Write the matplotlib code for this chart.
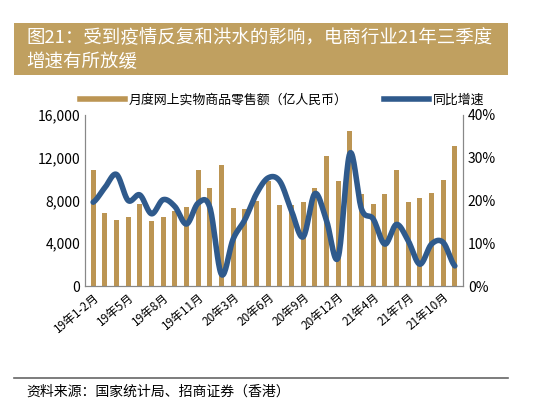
import matplotlib
matplotlib.use("Agg")
import matplotlib.pyplot as plt
import numpy as np
from matplotlib.patches import Rectangle
from matplotlib.lines import Line2D

plt.rcParams['font.family'] = ['Noto Sans CJK SC', 'DejaVu Sans']

months = ['19年1-2月','19年3月','19年4月','19年5月','19年6月','19年7月','19年8月','19年9月','19年10月','19年11月','19年12月',
          '20年1-2月','20年3月','20年4月','20年5月','20年6月','20年7月','20年8月','20年9月','20年10月','20年11月','20年12月',
          '21年1-2月','21年3月','21年4月','21年5月','21年6月','21年7月','21年8月','21年9月','21年10月','21年11月']
sales = [10900, 6850, 6200, 6500, 7700, 6050, 6500, 7050, 7400, 10900, 9200,
         11300, 7300, 7200, 8000, 9800, 7550, 7600, 7850, 9150, 12200, 9850,
         14500, 8650, 7700, 8600, 10900, 7900, 8200, 8700, 9900, 13100]
growth = [19.6, 23.0, 26.1, 20.0, 21.3, 16.9, 20.2, 18.6, 14.5, 19.4, 18.4,
          2.7, 11.0, 15.5, 21.6, 25.3, 24.5, 17.6, 11.5, 21.6, 15.3, 6.7,
          31.0, 18.0, 15.7, 9.8, 14.4, 10.6, 5.1, 9.8, 10.2, 4.7]
tick_idx = [0, 3, 6, 9, 12, 15, 18, 21, 24, 27, 30]

bar_c = '#BC9553'
line_c = '#2F5A8C'

fig = plt.figure(figsize=(5.54, 4.17), dpi=100)
fig.patches.append(Rectangle((14/554, 1-75/417), 494/554, 52/417, transform=fig.transFigure,
                             facecolor='#C0A060', edgecolor='none', zorder=0))
fig.text(26/554, 1-38/417, '图21：受到疫情反复和洪水的影响，电商行业21年三季度', color='white',
         fontsize=13.3, va='center', ha='left')
fig.text(26/554, 1-62/417, '增速有所放缓', color='white', fontsize=13.3, va='center', ha='left')

ax = fig.add_axes([85/554, 1-286/417, 378/554, 171/417])
x = np.arange(len(sales))
ax.bar(x, sales, width=0.45, color=bar_c)
ax.set_ylim(0, 16000)
ax.set_yticks(np.arange(0, 16001, 4000))
ax.set_yticklabels([f'{v:,}' for v in range(0, 16001, 4000)], fontsize=10)
ax.set_xlim(-0.7, len(sales) - 0.3)
ax.set_xticks(tick_idx)
ax.set_xticklabels([months[i] for i in tick_idx], rotation=40, ha='right', rotation_mode='anchor', fontsize=8.5)
ax.spines['top'].set_visible(False)
for s in ['left', 'right', 'bottom']:
    ax.spines[s].set_color('#888888')
ax.tick_params(length=0)

ax2 = ax.twinx()
g = np.array(growth, dtype=float)
p = np.concatenate([[g[0]], g, [g[-1]]])
xs, ys = [], []
for i in range(len(g) - 1):
    p0, p1, p2, p3 = p[i], p[i+1], p[i+2], p[i+3]
    t = np.linspace(0, 1, 20, endpoint=False)
    y = 0.5 * ((2*p1) + (-p0+p2)*t + (2*p0-5*p1+4*p2-p3)*t**2 + (-p0+3*p1-3*p2+p3)*t**3)
    xs.extend(i + t); ys.extend(y)
xs.append(len(g)-1); ys.append(g[-1])
ax2.plot(xs, ys, color=line_c, lw=4, solid_capstyle='round')
ax2.set_ylim(0, 40)
ax2.set_yticks(range(0, 41, 10))
ax2.set_yticklabels([f'{v}%' for v in range(0, 41, 10)], fontsize=10)
ax2.spines['top'].set_visible(False)
for s in ['left', 'right', 'bottom']:
    ax2.spines[s].set_color('#888888')
ax2.tick_params(length=0)

handles = [Line2D([0], [0], color=bar_c, lw=4), Line2D([0], [0], color=line_c, lw=4)]
fig.legend(handles, ['月度网上实物商品零售额（亿人民币）', '同比增速'], loc='center',
           bbox_to_anchor=(282/554, 1-100/417), ncol=2, frameon=False, fontsize=9.3,
           handlelength=3.5, columnspacing=2.8, handletextpad=0.3)

fig.add_artist(Line2D([14/554, 508/554], [1-378/417, 1-378/417], color='#666666', lw=1.2,
                      transform=fig.transFigure))
fig.text(26/554, 1-392/417, '资料来源：国家统计局、招商证券（香港）', fontsize=10, style='italic',
         va='center', ha='left')

fig.savefig('out.png', dpi=100)
